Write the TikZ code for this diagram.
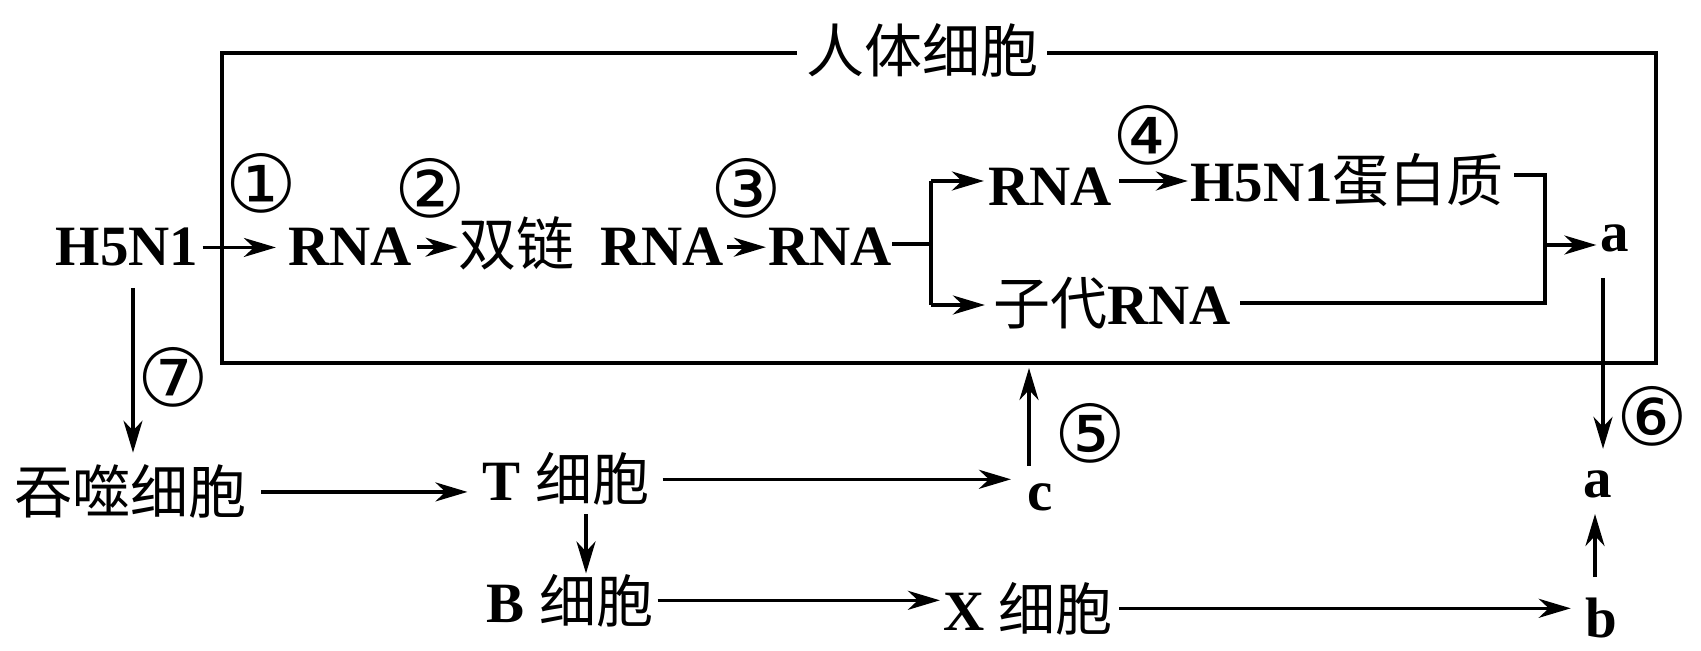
\documentclass[tikz,border=0pt]{standalone}
\usepackage{fontspec}
\setmainfont{Liberation Serif}
\newfontfamily\cjk{Noto Sans CJK SC}
\newfontfamily\sym{DejaVu Sans}
\usetikzlibrary{arrows.meta}
\begin{document}
\begin{tikzpicture}[x=0.5pt,y=-0.5pt,
  B/.style={inner sep=0pt, anchor=base, font=\fontsize{28.5}{30}\selectfont\bfseries},
  Z/.style={inner sep=0pt, anchor=base, font=\cjk\fontsize{29}{30}\selectfont},
  N/.style={inner sep=0pt, font=\sym\fontsize{40}{40}\selectfont},
  ln/.style={line width=1.8pt},
  arr/.style={line width=1.8pt, -{Stealth[length=16pt,width=9.5pt,inset=5pt]}}]
\useasboundingbox (0,0) rectangle (1701,651);
% cell box
\node[draw, line width=2pt, minimum width=717pt, minimum height=155pt, inner sep=0pt] (cell) at (939,208) {};
\node[Z, anchor=center, fill=white, inner xsep=4.5pt, inner ysep=0pt] (title) at (922,50) {人体细胞};
% texts
\node[B] (h5n1) at (127,266) {H5N1};
\node[B] (rna1) at (350,266) {RNA};
\node[Z] (sl) at (516,266) {双链};
\node[B] (rna2) at (662,266) {RNA};
\node[B] (rna3) at (830,266) {RNA};
\node[B] (rna4) at (1050,206) {RNA};
\node[B] (prot) at (1347,202) {H5N1{\cjk\mdseries 蛋白质}};
\node[B] (zidai) at (1112,325) {{\cjk\mdseries 子代}RNA};
\node[B] (a1) at (1615,252) {a};
\node[B] (a2) at (1598,497) {a};
\node[B] (b) at (1601,637) {b};
\node[B] (c) at (1040,510) {c};
\node[Z] (tun) at (130,514) {吞噬细胞};
\node[B] (tc) at (566,501) {T {\cjk\mdseries 细胞}};
\node[B] (bc) at (570,622) {B {\cjk\mdseries 细胞}};
\node[B] (xc) at (1028,630) {X {\cjk\mdseries 细胞}};
% circled numbers
\node[N] (n1) at (261,183) {①};
\node[N] (n2) at (430,188) {②};
\node[N] (n3) at (746,188) {③};
\node[N] (n4) at (1148,135) {④};
\node[N] (n5) at (1090,433) {⑤};
\node[N] (n6) at (1652,416) {⑥};
\node[N] (n7) at (173,377) {⑦};
% helper coordinates
\coordinate (br) at (931,244);
\coordinate (bt) at (931,181);
\coordinate (bb) at (931,305);
\coordinate (rt) at (1545,175);
\coordinate (rb) at (1545,245);
\coordinate (rbot) at (1545,303);
\coordinate (col6) at (1603,0);
\coordinate (col6b) at (1595,0);
\coordinate (col5) at (1029,0);
\coordinate (col7) at (133,0);
\coordinate (colTB) at (586,0);
% connectors
\draw[arr, shorten <=2pt, shorten >=6pt] (h5n1.east) -- (h5n1.east -| rna1.west);
\draw[arr, shorten <=2.5pt] (rna1.east) -- (rna1.east -| sl.west);
\draw[arr, shorten <=1.5pt, shorten >=1pt] (rna2.east) -- (rna2.east -| rna3.west);
\draw[ln] (rna3.east |- br) -- (br);
\draw[ln] (bt) -- (bb);
\draw[arr, shorten >=2pt] (bt) -- (bt -| rna4.west);
\draw[arr, shorten >=4pt] (bb) -- (bb -| zidai.west);
\draw[arr, shorten <=3.5pt, shorten >=1pt] (rna4.east |- bt) -- (bt -| prot.west);
\draw[ln] ([xshift=5pt]prot.east |- rt) -- (rt) -- (rbot) -- ([xshift=4.5pt]zidai.east |- rbot);
\draw[arr, shorten >=2pt] (rb) -- (rb -| a1.west);
\draw[arr, shorten <=12.5pt, shorten >=10.5pt] (a1.south -| col6) -- (a2.north -| col6);
\draw[arr, shorten <=10pt, shorten >=8pt] (b.north -| col6b) -- (a2.south -| col6b);
\draw[arr, shorten <=3pt, shorten >=7pt] (xc.east) -- (xc.east -| b.west);
\draw[arr, shorten <=2pt, shorten >=1.5pt] (bc.east) -- (bc.east -| xc.west);
\draw[arr, shorten <=4pt] (tc.south -| colTB) -- (bc.north -| colTB);
\draw[arr, shorten <=6.5pt, shorten >=8pt] (tc.east) -- (tc.east -| c.west);
\draw[arr, shorten <=8.5pt, shorten >=1.5pt] (c.north -| col5) -- (cell.south -| col5);
\draw[arr, shorten <=7.5pt, shorten >=7.5pt] (tun.east) -- (tun.east -| tc.west);
\draw[arr, shorten <=10.5pt, shorten >=6pt] (h5n1.south -| col7) -- (tun.north -| col7);
\end{tikzpicture}
\end{document}
